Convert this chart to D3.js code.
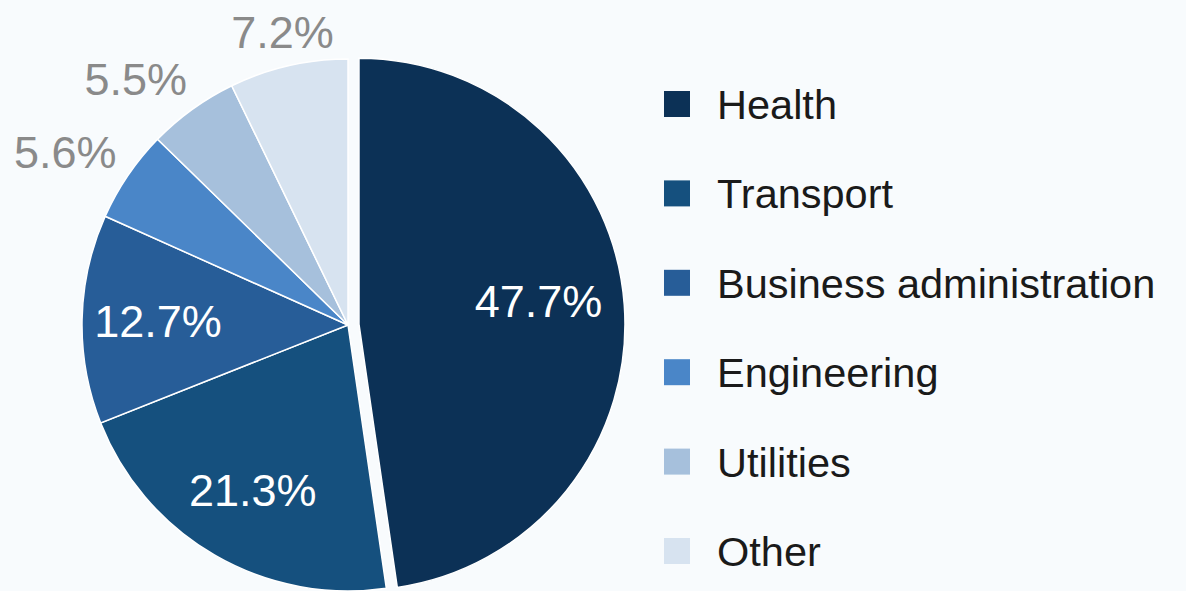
<!DOCTYPE html>
<html>
<head>
<meta charset="utf-8">
<script src="https://cdn.jsdelivr.net/npm/d3@7"></script>
<style>
  html, body { margin: 0; padding: 0; background: #f8fbfd; }
  svg { display: block; }
  text { font-family: "Liberation Sans", Arial, Helvetica, sans-serif; }
</style>
</head>
<body>
<svg id="chart" width="1186" height="591"></svg>
<script>
// Share of employment by sector (%)
const categories = ["Health", "Transport", "Business administration", "Engineering", "Utilities", "Other"];
const values = [47.7, 21.3, 12.7, 5.6, 5.5, 7.2];
const colors = ["#0c3156", "#15507e", "#275d98", "#4a86c8", "#a6c0dc", "#d7e3f0"];
// slices whose label sits inside the pie (the rest are labelled outside in grey)
const insideLabel = [true, true, true, false, false, false];

const width = 1186, height = 591;
const cx = 348, cy = 325, radius = 266;
const explodeOffset = 11;   // the first slice is pulled out a little

const svg = d3.select("#chart");

const color = d3.scaleOrdinal().domain(categories).range(colors);

const data = categories.map((c, i) => ({ name: c, value: values[i], inside: insideLabel[i] }));

const pie = d3.pie().value(d => d.value).sort(null);
const arcs = pie(data);

const arc = d3.arc().innerRadius(0).outerRadius(radius);
const labelArc = d3.arc().innerRadius(190).outerRadius(190);
const outerLabelArc = d3.arc().innerRadius(radius + 26).outerRadius(radius + 26);

const g = svg.append("g").attr("transform", `translate(${cx},${cy})`);

const midAngle = d => (d.startAngle + d.endAngle) / 2;

function offsetOf(d, i) {
  if (i !== 0) return [0, 0];
  const a = midAngle(d);
  return [Math.sin(a) * explodeOffset, -Math.cos(a) * explodeOffset];
}

const slices = g.selectAll("g.slice")
  .data(arcs)
  .join("g")
  .attr("class", "slice")
  .attr("transform", (d, i) => { const o = offsetOf(d, i); return `translate(${o[0]},${o[1]})`; });

slices.append("path")
  .attr("d", arc)
  .attr("fill", d => color(d.data.name))
  .attr("stroke", "#ffffff")
  .attr("stroke-width", 1.5);

// Labels inside the large slices
slices.filter(d => d.data.inside)
  .append("text")
  .attr("transform", (d, i) => {
    const c = labelArc.centroid(d);
    // the big slice's label is nudged up-left, away from the rim
    return i === 0 ? `translate(${c[0] - 10},${c[1] - 10})` : `translate(${c})`;
  })
  .attr("text-anchor", "middle")
  .attr("dy", "0.36em")
  .attr("fill", "#ffffff")
  .attr("font-size", 45)
  .text(d => d.data.value.toFixed(1) + "%");

// Labels outside the small slices
const isLeft = d => Math.sin(midAngle(d)) < -0.5;
g.selectAll("text.outer")
  .data(arcs.filter(d => !d.data.inside))
  .join("text")
  .attr("class", "outer")
  .attr("transform", d => {
    const c = outerLabelArc.centroid(d);
    return `translate(${c[0] + (isLeft(d) ? 10 : 0)},${c[1] - 9})`;
  })
  .attr("text-anchor", d => isLeft(d) ? "end" : "middle")
  .attr("dy", "0.36em")
  .attr("fill", "#8a8a8a")
  .attr("font-size", 45)
  .text(d => d.data.value.toFixed(1) + "%");

// Legend
const legendY = d3.scalePoint().domain(categories).range([104, 551]);
const legend = svg.append("g").attr("class", "legend");
const rows = legend.selectAll("g")
  .data(categories)
  .join("g")
  .attr("transform", d => `translate(664,${legendY(d)})`);

rows.append("rect")
  .attr("x", 0)
  .attr("y", -13)
  .attr("width", 26)
  .attr("height", 26)
  .attr("fill", d => color(d));

rows.append("text")
  .attr("x", 53)
  .attr("dy", "0.36em")
  .attr("fill", "#1a1a1a")
  .attr("font-size", 41.5)
  .text(d => d);
</script>
</body>
</html>
